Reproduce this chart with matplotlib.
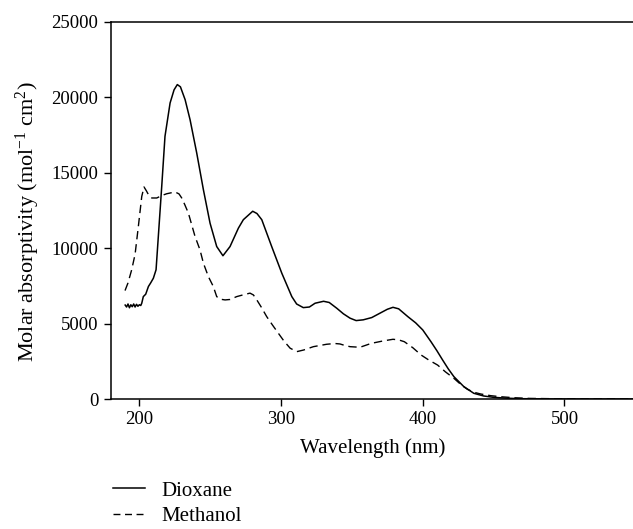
import matplotlib
matplotlib.use("Agg")
import matplotlib.pyplot as plt
from matplotlib.lines import Line2D

plt.rcParams['font.family'] = ['Liberation Serif', 'DejaVu Serif']
plt.rcParams['mathtext.fontset'] = 'custom'
plt.rcParams['mathtext.rm'] = 'Liberation Serif'
plt.rcParams['mathtext.default'] = 'regular'

# Dioxane (solid)
dioxane_wl = [190, 191, 192, 193, 194, 195, 196, 197, 198, 199, 200, 201, 201.7, 202.8,
              204.5, 206.4, 208, 209.9, 211.8, 213.4, 215.8, 218.1, 221.7, 224.5, 226.8,
              229, 232.3, 235.8, 240.5, 245.2, 249.9, 254.6, 259, 264, 269.9, 273.4, 280,
              283, 286.4, 293.4, 300.5, 307.6, 311, 315.7, 320, 324, 330, 334, 339.3, 344,
              348.7, 353, 358, 364, 370, 375, 379, 383, 389.5, 395, 400, 405.8, 410, 414,
              418, 422, 429, 436, 443, 450, 460, 470, 490, 520, 550]
dioxane_val = [6230, 6100, 6300, 6050, 6250, 6120, 6300, 6100, 6280, 6150, 6250, 6200, 6350,
               6790, 6950, 7460, 7700, 8010, 8570, 10780, 14100, 17420, 19630, 20500, 20850,
               20700, 19850, 18520, 16310, 13880, 11660, 10110, 9500, 10110, 11330, 11890,
               12450, 12300, 11890, 10110, 8350, 6790, 6300, 6060, 6100, 6350, 6480, 6400,
               6020, 5650, 5360, 5200, 5250, 5400, 5700, 5950, 6080, 5980, 5460, 5050, 4580,
               3800, 3200, 2590, 2000, 1480, 820, 380, 200, 110, 50, 20, 5, 0, 0]

# Methanol (dashed)
methanol_wl = [189.9, 192, 194.6, 197, 199.3, 201.7, 203.3, 205, 207, 208.8, 212.3, 216,
               219.3, 225.2, 228, 229.9, 232, 234.6, 239.3, 242.8, 245.2, 248.7, 252.2,
               254.6, 257, 260.5, 264, 268.7, 273, 278.1, 280.5, 282.9, 286, 289.9, 294,
               298.1, 302, 306.4, 311.1, 316, 322.8, 332.2, 338, 341.6, 345, 348.7, 355.7,
               363.7, 372, 379, 383, 387, 393, 398.8, 404, 410.5, 416, 422, 427, 431.6, 436,
               441, 448, 455, 465, 475, 500, 550]
methanol_val = [7190, 7700, 8570, 9600, 11440, 13430, 14060, 13800, 13450, 13330, 13330,
                13500, 13610, 13730, 13600, 13330, 12900, 12330, 10780, 9890, 9010, 8120,
                7460, 6790, 6620, 6570, 6600, 6790, 6900, 7020, 6900, 6570, 6100, 5460, 4900,
                4360, 3850, 3370, 3140, 3250, 3470, 3630, 3680, 3650, 3550, 3470, 3430, 3690,
                3850, 3960, 3920, 3800, 3400, 2920, 2600, 2250, 1800, 1370, 950, 640, 450,
                330, 220, 150, 80, 40, 10, 0]

x_ticks = [200, 300, 400, 500]
y_ticks = [0, 5000, 10000, 15000, 20000, 25000]

fig = plt.figure(figsize=(6.33, 5.29), dpi=100)
ax = fig.add_axes([111/633, 130/529, 524.3/633, 377/529])

ax.plot(dioxane_wl, dioxane_val, color='black', lw=1.1, ls='-')
ax.plot(methanol_wl, methanol_val, color='black', lw=1.0, ls=(0, (6, 3.5)))

ax.set_xlim(180, 550)
ax.set_ylim(0, 25000)
ax.set_xticks(x_ticks)
ax.set_yticks(y_ticks)
ax.tick_params(direction='out', length=5, width=1, labelsize=13.5, pad=4)
ax.spines['right'].set_visible(False)
for s in ['left', 'bottom', 'top']:
    ax.spines[s].set_linewidth(1.1)

ax.set_xlabel('Wavelength (nm)', fontsize=15, labelpad=7)
ax.set_ylabel(r'Molar absorptivity (mol$^{-1}$ cm$^{2}$)', fontsize=16, labelpad=7, y=0.47)

handles = [Line2D([], [], color='black', lw=1.1, ls='-'),
           Line2D([], [], color='black', lw=1.0, ls=(0, (5, 3.3)))]
fig.legend(handles, ['Dioxane', 'Methanol'], loc='upper left',
           bbox_to_anchor=(112.7/633, 1 - 481/529), frameon=False, fontsize=15,
           handlelength=1.55, handletextpad=0.77, labelspacing=0.3, borderpad=0,
           borderaxespad=0)

fig.savefig('out.png', dpi=100)
